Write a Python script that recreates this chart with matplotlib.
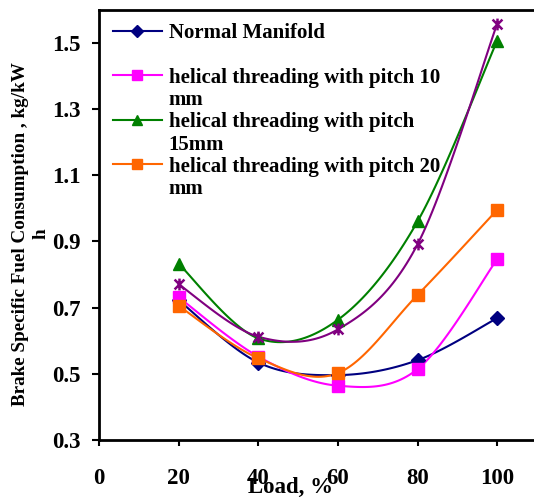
import numpy as np
import matplotlib
matplotlib.use("Agg")
import matplotlib.pyplot as plt
from matplotlib.path import Path
from matplotlib.lines import Line2D

load = [20, 40, 60, 80, 100]
normal = [0.722, 0.534, 0.496, 0.541, 0.668]
pitch10 = [0.731, 0.552, 0.464, 0.514, 0.846]
pitch15 = [0.832, 0.607, 0.663, 0.960, 1.506]
pitch20 = [0.705, 0.547, 0.502, 0.738, 0.995]
extra = [0.770, 0.612, 0.634, 0.891, 1.557]

labels = ["Normal Manifold",
          "helical threading with pitch 10\nmm",
          "helical threading with pitch\n15mm",
          "helical threading with pitch 20\nmm"]
xticks = [0, 20, 40, 60, 80, 100]
yticks = [0.3, 0.5, 0.7, 0.9, 1.1, 1.3, 1.5]

plt.rcParams['font.family'] = ['Liberation Serif', 'DejaVu Serif']
plt.rcParams['font.weight'] = 'bold'


def smooth(x, y, n=30):
    x = np.asarray(x, float); y = np.asarray(y, float)
    P = np.column_stack([x, y])
    Pe = np.vstack([P[0], P, P[-1]])
    out = []
    for i in range(len(P) - 1):
        p0, p1, p2, p3 = Pe[i], Pe[i + 1], Pe[i + 2], Pe[i + 3]
        c1 = p1 + (p2 - p0) / 6.0
        c2 = p2 - (p3 - p1) / 6.0
        t = np.linspace(0, 1, n)[:, None]
        seg = ((1 - t) ** 3) * p1 + 3 * ((1 - t) ** 2) * t * c1 + 3 * (1 - t) * t ** 2 * c2 + t ** 3 * p2
        if i > 0:
            seg = seg[1:]
        out.append(seg)
    out = np.vstack(out)
    return out[:, 0], out[:, 1]


star = Path([(-1, -1), (1, 1), (-1, 1), (1, -1), (0, -1.2), (0, 1.2)],
            [Path.MOVETO, Path.LINETO, Path.MOVETO, Path.LINETO, Path.MOVETO, Path.LINETO])

fig = plt.figure(figsize=(5.34, 4.99), dpi=100)
ax = fig.add_axes([99 / 534, 59 / 499, 438 / 534, 430.5 / 499])

LW = 1.5
series = [
    (normal, '#000080', 'D', 7, labels[0]),
    (pitch10, '#FF00FF', 's', 8.5, labels[1]),
    (pitch15, '#008000', '^', 8.5, labels[2]),
    (pitch20, '#FF6600', 's', 8.5, labels[3]),
]
leg_handles = []
leg_labels = []
blank = Line2D([], [], color='none')
for k, (vals, col, mk, ms, lab) in enumerate(series):
    sx, sy = smooth(load, vals)
    ax.plot(sx, sy, color=col, lw=LW, zorder=2)
    ax.plot(load, vals, ls='none', marker=mk, ms=ms, color=col, mec=col, zorder=3)
    h = Line2D([], [], color=col, lw=LW, marker=mk, ms=ms * 0.85, mec=col)
    lines = lab.split("\n")
    leg_handles.append(h)
    leg_labels.append(lines[0])
    if len(lines) > 1:
        leg_handles.append(blank)
        leg_labels.append(lines[1])
    else:
        leg_handles.append(blank)
        leg_labels.append(" ")

sx, sy = smooth(load, extra)
ax.plot(sx, sy, color='#800080', lw=LW, zorder=2)
ax.plot(load, extra, ls='none', marker=star, ms=8.5, mfc='none', mec='#800080', mew=1.8, zorder=3)

ax.set_xlim(0, 110)
ax.set_ylim(0.3, 1.6)
ax.set_xticks(xticks)
ax.set_xticklabels([str(v) for v in xticks])
ax.set_yticks(yticks)
ax.set_yticklabels([f"{v:.1f}" for v in yticks])
ax.tick_params(axis='x', direction='out', length=4, width=1.5, pad=16, labelsize=16.5)
ax.tick_params(axis='y', direction='out', length=5, width=1.5, pad=8, labelsize=16.5)
for lbl in ax.get_xticklabels() + ax.get_yticklabels():
    lbl.set_fontweight('bold')
for s in ax.spines.values():
    s.set_linewidth(2)
    s.set_color('black')

fig.text(290 / 534, 1 - 487 / 499, "Load, %", ha='center', va='center', fontsize=16.5, fontweight='bold')
fig.text(31 / 534, 1 - 234 / 499, "Brake Specific Fuel Consumption , kg/kW\nh", rotation=90,
         ha='center', va='center', fontsize=13.8, fontweight='bold', multialignment='center',
         linespacing=1.25)

leg = ax.legend(leg_handles, leg_labels, loc='upper left', bbox_to_anchor=(0.0, 1.0), frameon=False,
                prop={'weight': 'bold', 'size': 15}, handlelength=2.35, handletextpad=0.34,
                labelspacing=0.11, borderaxespad=0.25, borderpad=0.4)

fig.savefig("out.png", dpi=100)
